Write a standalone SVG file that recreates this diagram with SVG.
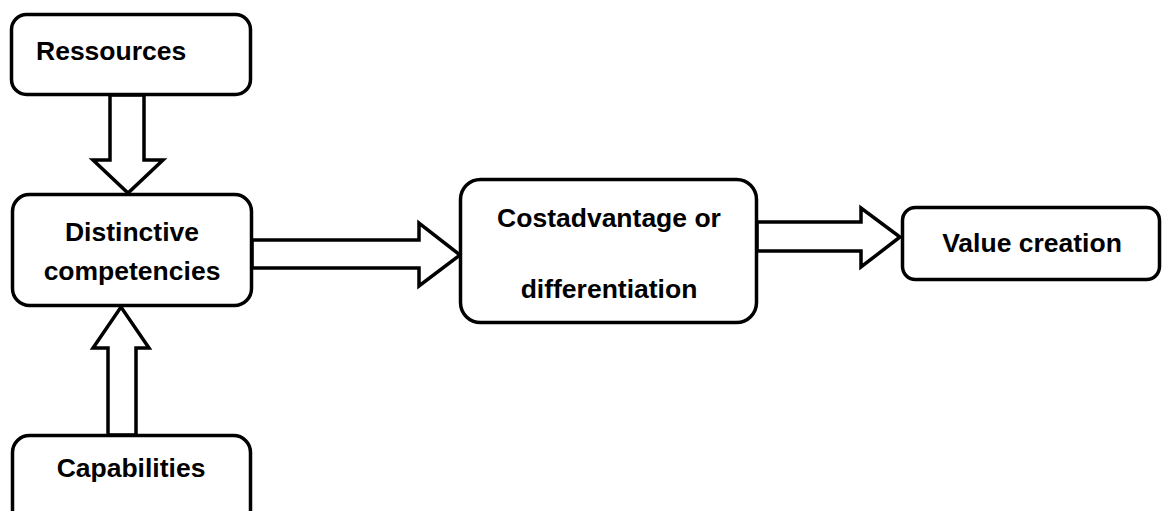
<svg xmlns="http://www.w3.org/2000/svg" width="1162" height="511" viewBox="0 0 1162 511">
  <style>
    .box { fill: #ffffff; stroke: #000000; stroke-width: 3.5; }
    .arrow { fill: #ffffff; stroke: #000000; stroke-width: 3.5; stroke-linejoin: miter; }
    .label { font-family: "Liberation Sans", Arial, sans-serif; font-weight: bold; font-size: 26.5px; fill: #000000; }
    .mid { text-anchor: middle; }
  </style>
  <rect width="1162" height="511" fill="#ffffff"/>

  <!-- block arrows -->
  <g id="connectors">
    <!-- Ressources -> Distinctive competencies -->
    <polygon class="arrow" points="110,95 144,95 144,160 163,160 128,193 93,160 110,160"/>
    <!-- Capabilities -> Distinctive competencies -->
    <polygon class="arrow" points="108,435 136,435 136,348 149,348 121,307 93,348 108,348"/>
    <!-- Distinctive competencies -> Costadvantage or differentiation -->
    <polygon class="arrow" points="252,240 419,240 419,223 460,255 419,286 419,268 252,268"/>
    <!-- Costadvantage or differentiation -> Value creation -->
    <polygon class="arrow" points="757,222 861,222 861,208 900,237 861,267 861,251 757,251"/>
  </g>

  <g id="ressources">
    <rect class="box" x="11.5" y="14.5" width="239" height="80" rx="15"/>
    <text class="label" x="36" y="60">Ressources</text>
  </g>

  <g id="distinctive-competencies">
    <rect class="box" x="12.5" y="194.5" width="239" height="111" rx="17"/>
    <text class="label mid" x="132" y="241">Distinctive</text>
    <text class="label mid" x="132" y="280">competencies</text>
  </g>

  <g id="capabilities">
    <rect class="box" x="12.5" y="435.5" width="238" height="100" rx="17"/>
    <text class="label mid" x="131" y="477">Capabilities</text>
  </g>

  <g id="costadvantage-or-differentiation">
    <rect class="box" x="460.5" y="179.5" width="296" height="143" rx="20"/>
    <text class="label mid" x="609" y="227">Costadvantage or</text>
    <text class="label mid" x="609" y="298">differentiation</text>
  </g>

  <g id="value-creation">
    <rect class="box" x="902.5" y="207.5" width="257" height="72" rx="13"/>
    <text class="label mid" x="1032" y="252">Value creation</text>
  </g>
</svg>
